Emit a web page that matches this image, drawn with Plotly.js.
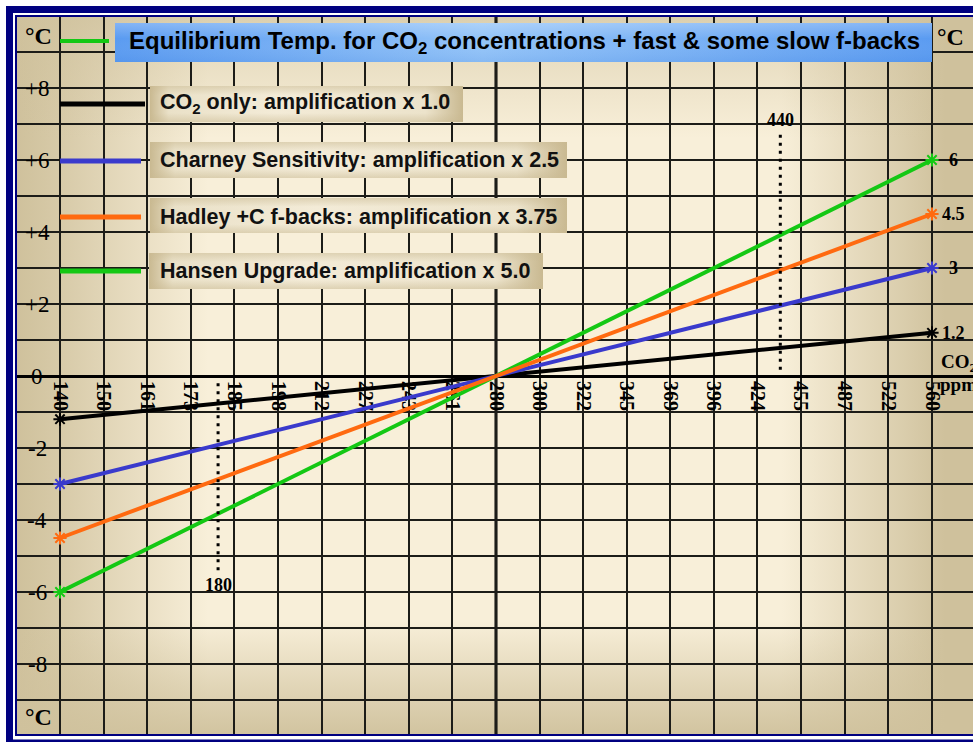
<!DOCTYPE html>
<html><head><meta charset="utf-8">
<script src="https://cdn.plot.ly/plotly-3.0.1.min.js"></script>
<style>html,body{margin:0;padding:0;background:#fff;overflow:hidden}</style>
</head><body><div id="chart" style="width:973px;height:742px"></div>
<script>
// ---------- data ----------
const ppmEnds = [140, 560];
const co2Only = [-1.2, 1.2];
const charney = [-3, 3];
const hadley = [-4.5, 4.5];
const hansen = [-6, 6];
const seriesNames = [
  'CO<sub>2</sub> only: amplification x 1.0',
  'Charney Sensitivity: amplification x 2.5',
  'Hadley +C f-backs: amplification x 3.75',
  'Hansen Upgrade: amplification x 5.0'
];
const seriesColors = ['#000000', '#3a3acc', '#ff6a10', '#14c814'];
const endLabels = ['1.2', '3', '4.5', '6'];
const ppmGridVals = [140, 150.1, 160.8, 172.4, 184.7, 198.0, 212.2, 227.4, 243.7, 261.2, 280,
                     300.1, 321.6, 344.7, 369.4, 395.9, 424.3, 454.7, 487.4, 522.4, 560];
const ppmTickText = ['140','150','161','173','185','198','212','227','243','261','280',
                     '300','322','345','369','396','424','455','487','522','560'];
const tempTickVals = [8, 6, 4, 2, 0, -2, -4, -6, -8];
const tempTickText = ['+8', '+6', '+4', '+2', '0', '-2', '-4', '-6', '-8'];
const markerPpm = [180, 440];
const markerSpan = [[-0.2, -5.4], [6.7, 0.05]];
const markerLabelY = [-5.8, 7.1];
const baselinePpm = 280;
const titleText = 'Equilibrium Temp. for CO<sub>2</sub> concentrations + fast & some slow f-backs';

// ---------- geometry helpers ----------
const W = 973, H = 742, L = 17, T = 16, PW = 956, PH = 720;
const px = x => (x - L) / PW;
const py = y => (T + PH - y) / PH;
const SERIF = 'Liberation Serif, Times New Roman, serif';
const SANS = 'Liberation Sans, Arial, sans-serif';

function svgURI(w, h, inner) {
  const s = `<svg xmlns="http://www.w3.org/2000/svg" width="${w}" height="${h}" viewBox="0 0 ${w} ${h}" preserveAspectRatio="none">${inner}</svg>`;
  return 'data:image/svg+xml;charset=utf-8,' + encodeURIComponent(s);
}
function grad(id, vertical, stops) {
  const c = vertical ? 'x1="0" y1="0" x2="0" y2="1"' : 'x1="0" y1="0" x2="1" y2="0"';
  return `<linearGradient id="${id}" ${c}>` + stops.map(s =>
    `<stop offset="${s[0]}" stop-color="${s[1]}" stop-opacity="${s[2] === undefined ? 1 : s[2]}"/>`).join('') + '</linearGradient>';
}
function boxImage(x0, y0, x1, y1, uri, layer) {
  return {source: uri, xref: 'paper', yref: 'paper', x: px(x0), y: py(y0),
          sizex: (x1 - x0) / PW, sizey: (y1 - y0) / PH, xanchor: 'left', yanchor: 'top',
          sizing: 'stretch', layer: layer || 'above'};
}

// plot background vignette
const tan = '#cfc19c';
const bgURI = svgURI(PW, PH,
  '<defs>' +
  grad('h', false, [[0, tan, 1], [0.045, tan, 0.8], [0.2, tan, 0], [0.8, tan, 0], [0.93, tan, 0.75], [0.97, tan, 1], [1, tan, 1]]) +
  grad('v', true, [[0, tan, 0.7], [0.05, tan, 0.4], [0.17, tan, 0], [0.84, tan, 0], [0.93, tan, 0.55], [1, tan, 0.95]]) +
  '</defs>' +
  `<rect width="${PW}" height="${PH}" fill="#f8efd9"/>` +
  `<rect width="${PW}" height="${PH}" fill="url(#h)"/>` +
  `<rect width="${PW}" height="${PH}" fill="url(#v)"/>`);

// legend boxes
const lbTan = '#c9b991';
const legendURI = svgURI(400, 36,
  '<defs>' +
  grad('a', false, [[0, lbTan, 1], [0.06, '#eae1c8', 1], [0.4, '#f3ebd7', 1], [0.88, '#ece3cb', 1], [1, lbTan, 1]]) +
  grad('b', true, [[0, lbTan, 0.5], [0.25, lbTan, 0], [0.75, lbTan, 0], [1, lbTan, 0.5]]) +
  '</defs><rect width="400" height="36" fill="url(#a)"/><rect width="400" height="36" fill="url(#b)"/>');

// title box
const titleURI = svgURI(800, 40,
  '<defs>' +
  grad('t', false, [[0, '#5a9bf1', 1], [0.45, '#92c3f8', 1], [1, '#5a9bf1', 1]]) +
  grad('u', true, [[0, '#ffffff', 0.25], [0.4, '#ffffff', 0], [1, '#3070d0', 0.12]]) +
  '</defs><rect width="800" height="40" fill="url(#t)"/><rect width="800" height="40" fill="url(#u)"/>');

const legendBoxes = [[150, 86, 463, 122], [150, 142, 567, 178], [150, 198, 567, 233], [149, 253, 543, 289]];
const legendSampleY = [104, 161, 217, 271];
const legendSampleX1 = [145, 141, 141, 141];

// ---------- traces ----------
const seriesY = [co2Only, charney, hadley, hansen];
const order = [0, 1, 3, 2];
const traces = order.map(i => ({
  type: 'scatter', mode: 'lines+markers', x: ppmEnds, y: seriesY[i],
  line: {color: seriesColors[i], width: 4},
  marker: {symbol: 'asterisk-open', size: 11, color: seriesColors[i], line: {color: seriesColors[i], width: 2}},
  hoverinfo: 'skip', showlegend: false, cliponaxis: false
}));

// ---------- shapes ----------
const shapes = [];
shapes.push({type: 'line', xref: 'x', yref: 'paper', x0: baselinePpm, x1: baselinePpm, y0: 0, y1: 1,
             line: {color: '#000', width: 3}, layer: 'below'});
markerPpm.forEach((m, i) => shapes.push({type: 'line', xref: 'x', yref: 'y', x0: m, x1: m,
  y0: markerSpan[i][0], y1: markerSpan[i][1], line: {color: '#000', width: 3, dash: '3px,5px'}, layer: 'above'}));
// legend sample lines
seriesColors.forEach((c, i) => shapes.push({type: 'line', xref: 'paper', yref: 'paper',
  x0: px(60), x1: px(legendSampleX1[i]), y0: py(legendSampleY[i]), y1: py(legendSampleY[i]),
  line: {color: c, width: 5}, layer: 'above'}));
shapes.push({type: 'line', xref: 'paper', yref: 'paper', x0: px(60), x1: px(109), y0: py(41), y1: py(41),
  line: {color: seriesColors[3], width: 4}, layer: 'above'});
// frame
shapes.push({type: 'rect', xref: 'paper', yref: 'paper', x0: px(9.5), x1: px(1010), y0: py(9.5), y1: py(743),
  line: {color: '#000080', width: 7}, fillcolor: 'rgba(0,0,0,0)', layer: 'above'});
shapes.push({type: 'rect', xref: 'paper', yref: 'paper', x0: px(16), x1: px(1010), y0: py(16), y1: py(735),
  line: {color: '#000080', width: 2}, fillcolor: 'rgba(0,0,0,0)', layer: 'above'});

// ---------- images ----------
const images = [boxImage(L, T, L + PW, T + PH, bgURI, 'below'), boxImage(115, 23, 932, 62, titleURI)];
legendBoxes.forEach(b => images.push(boxImage(b[0], b[1], b[2], b[3], legendURI)));

// ---------- annotations ----------
const lg = Math.log10;
const ann = [];
ann.push({text: '<b>' + titleText + '</b>', xref: 'paper', yref: 'paper', x: px(524), y: py(43),
  xanchor: 'center', yanchor: 'middle', showarrow: false, font: {family: SANS, size: 24, color: '#000'}});
seriesNames.forEach((n, i) => ann.push({text: '<b>' + n + '</b>', xref: 'paper', yref: 'paper',
  x: px(158), y: py(legendSampleY[i] - 0.5), xanchor: 'left', yanchor: 'middle', showarrow: false,
  font: {family: SANS, size: 21.5, color: '#111'}}));
[[38, 36], [950, 37], [38, 717]].forEach(p => ann.push({text: '<b>°C</b>', xref: 'paper', yref: 'paper',
  x: px(p[0]), y: py(p[1]), xanchor: 'center', yanchor: 'middle', showarrow: false,
  font: {family: SERIF, size: 24, color: '#000'}}));
tempTickVals.forEach((v, i) => ann.push({text: tempTickText[i], xref: 'paper', yref: 'y',
  x: px(37), y: v, xanchor: 'center', yanchor: 'middle', showarrow: false,
  font: {family: SERIF, size: 23, color: '#000'}}));
endLabels.forEach((t, i) => ann.push({text: '<b>' + t + '</b>', xref: 'x', yref: 'y',
  x: lg(ppmEnds[1]), y: seriesY[i][1], xshift: 21, xanchor: 'center', yanchor: 'middle', showarrow: false,
  font: {family: SERIF, size: 18, color: '#000'}}));
markerPpm.forEach((m, i) => ann.push({text: '<b>' + m + '</b>', xref: 'x', yref: 'y', x: lg(m), y: markerLabelY[i],
  xanchor: 'center', yanchor: 'middle', showarrow: false, font: {family: SERIF, size: 18, color: '#000'}}));
ann.push({text: '<b>CO<sub>2</sub></b>', xref: 'paper', yref: 'paper', x: px(939), y: py(363),
  xanchor: 'left', yanchor: 'middle', showarrow: false, font: {family: SERIF, size: 19, color: '#000'}});
ann.push({text: '<b>ppm</b>', xref: 'paper', yref: 'paper', x: px(938), y: py(385),
  xanchor: 'left', yanchor: 'middle', showarrow: false, font: {family: SERIF, size: 19, color: '#000'}});

// ---------- layout ----------
const layout = {
  width: W, height: H,
  margin: {l: L, r: 0, t: T, b: H - T - PH, pad: 0},
  paper_bgcolor: '#ffffff', plot_bgcolor: 'rgba(0,0,0,0)',
  showlegend: false,
  xaxis: {type: 'log', range: [2.116439, 2.776496], tickmode: 'array', tickvals: ppmGridVals, ticktext: ppmTickText,
    tickangle: 90, tickfont: {family: SERIF, size: 20, color: '#000', weight: 'bold'}, ticklabelstandoff: 4,
    showgrid: true, gridcolor: '#1c1c18', gridwidth: 2, zeroline: false, showline: false, ticks: '',
    anchor: 'free', position: 0.5, layer: 'below traces', fixedrange: true},
  yaxis: {range: [-10, 10], tick0: 0, dtick: 1, showticklabels: false, showgrid: true,
    gridcolor: '#1c1c18', gridwidth: 2, zeroline: true, zerolinecolor: '#000', zerolinewidth: 3,
    ticks: '', showline: false, layer: 'below traces', fixedrange: true},
  shapes: shapes, images: images, annotations: ann
};

Plotly.newPlot('chart', traces, layout, {staticPlot: true, displayModeBar: false});
</script></body></html>
